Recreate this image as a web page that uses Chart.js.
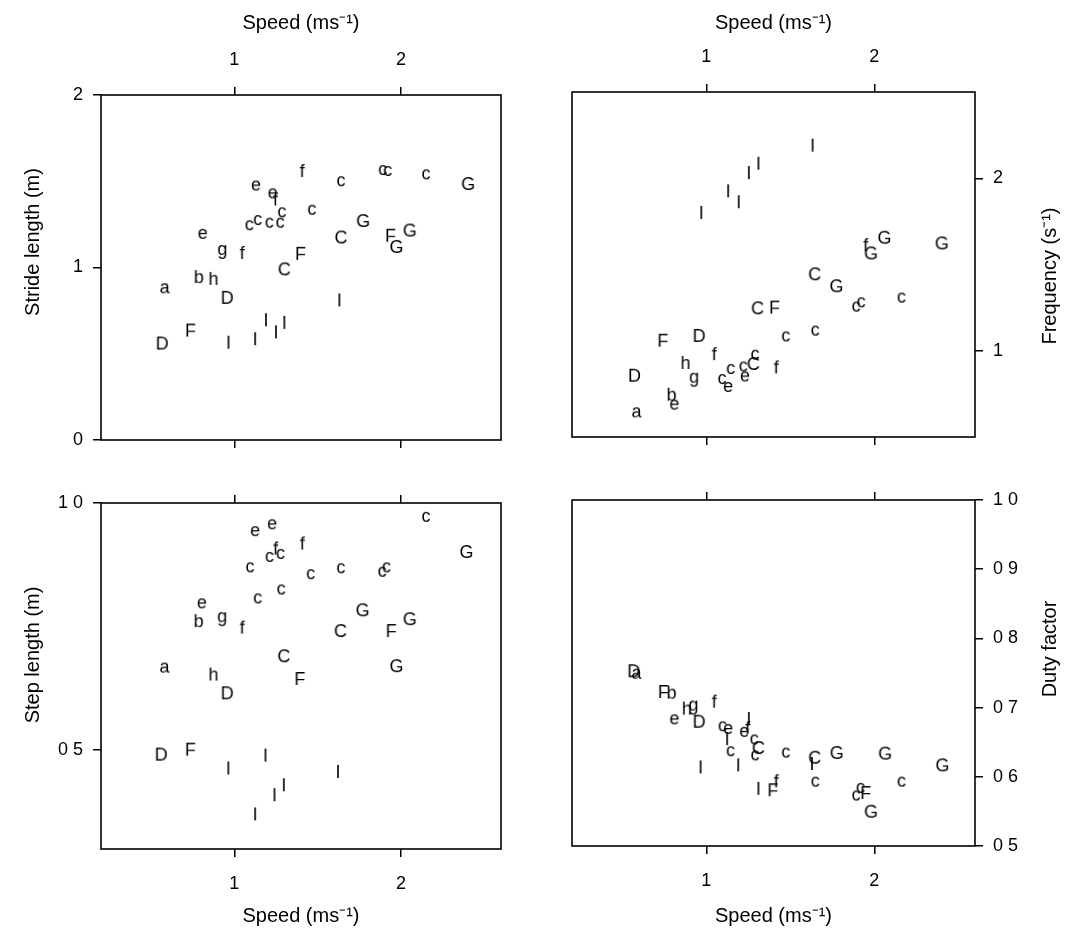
<!DOCTYPE html>
<html lang="en">
<head>
  <meta charset="UTF-8">
  <title>Gait parameters against speed</title>
  <script src="https://cdn.jsdelivr.net/npm/chart.js"></script>
  <style>
    body { margin: 0; background: #fff; }
    #wrap { position: relative; width: 1072px; height: 938px; }
    #wrap canvas { position: absolute; }
  </style>
</head>
<body>
  <div id="wrap">
    <canvas id="stride" width="536" height="470" style="left:0;top:0"></canvas>
    <canvas id="freq" width="536" height="470" style="left:536px;top:0"></canvas>
    <canvas id="step" width="536" height="468" style="left:0;top:470px"></canvas>
    <canvas id="duty" width="536" height="468" style="left:536px;top:470px"></canvas>
  </div>

  <script>
    const FONT = '"Liberation Sans", Arial, Helvetica, sans-serif';

    // shared speed axis
    const speedMin = 0.2, speedMax = 2.6;
    const speedTicks = [1, 2];

    // stride length (m)
    const strideLetters = ['f','c','c','c','c','G','e','e','f','c','c','c','c','c','c','G','C','F','G','G','e','g','f','F','C','b','h','a','D','I','I','I','I','I','I','F','D'];
    const strideSpeed  = [1.41,1.64,1.89,1.92,2.15,2.40,1.13,1.23,1.25,1.285,1.465,1.09,1.14,1.21,1.275,1.77,1.64,1.94,2.05,1.97,0.81,0.925,1.05,1.40,1.30,0.79,0.875,0.585,0.96,1.63,1.19,1.30,1.25,1.125,0.965,0.74,0.57];
    const strideLength = [1.565,1.50,1.565,1.56,1.54,1.49,1.475,1.43,1.40,1.32,1.335,1.245,1.275,1.26,1.26,1.275,1.18,1.19,1.22,1.125,1.195,1.09,1.09,1.085,0.995,0.95,0.94,0.88,0.83,0.815,0.70,0.685,0.63,0.59,0.57,0.64,0.565];
    const strideTicks = [0, 1, 2];

    // stride frequency (s-1)
    const freqLetters = ['I','I','I','I','I','I','G','G','f','G','C','G','c','c','c','C','F','c','c','F','D','f','h','c','C','c','e','c','c','e','f','D','g','b','e','a'];
    const freqSpeed   = [1.633,1.31,1.253,1.13,1.193,0.97,2.058,2.40,1.952,1.978,1.645,1.772,1.892,1.922,2.162,1.305,1.409,1.648,1.473,0.744,0.96,1.05,0.876,1.29,1.28,1.22,1.23,1.145,1.094,1.13,1.419,0.575,0.924,0.796,0.81,0.587];
    const freqValue   = [2.195,2.09,2.036,1.93,1.867,1.805,1.661,1.628,1.618,1.57,1.449,1.38,1.256,1.281,1.308,1.252,1.256,1.117,1.083,1.064,1.092,0.986,0.935,0.977,0.929,0.909,0.851,0.894,0.836,0.79,0.909,0.861,0.832,0.751,0.688,0.643];
    const freqTicks = [1, 2];

    // step length (m)
    const stepLetters = ['c','G','e','e','f','f','c','c','c','c','c','c','c','c','c','e','b','g','f','G','G','F','C','C','G','F','a','h','D','D','F','I','I','I','I','I','I'];
    const stepSpeed   = [2.15,2.39,1.125,1.227,1.411,1.251,1.211,1.277,1.094,1.458,1.639,1.887,1.913,1.281,1.14,0.805,0.789,0.924,1.05,1.767,2.05,1.944,1.637,1.297,1.97,1.396,0.584,0.875,0.96,0.564,0.739,1.187,0.964,1.622,1.297,1.241,1.125];
    const stepLength  = [0.972,0.903,0.943,0.957,0.920,0.910,0.891,0.897,0.870,0.856,0.868,0.861,0.870,0.825,0.807,0.797,0.763,0.765,0.750,0.785,0.767,0.743,0.743,0.692,0.672,0.646,0.667,0.655,0.617,0.493,0.503,0.491,0.465,0.458,0.431,0.411,0.372];
    const stepTicks = [0.5, 1.0];
    const stepTickLabels = ['0 5', '1 0'];

    // duty factor
    const dutyLetters = ['D','a','F','b','h','g','f','e','D','c','e','I','e','f','I','c','C','c','c','c','C','I','G','G','G','c','c','c','c','F','G','F','f','I','I','I'];
    const dutySpeed   = [0.571,0.587,0.747,0.796,0.884,0.92,1.05,0.81,0.96,1.096,1.13,1.124,1.226,1.25,1.253,1.285,1.31,1.29,1.144,1.473,1.645,1.629,1.774,2.062,2.403,1.649,2.162,1.918,1.892,1.952,1.978,1.399,1.419,0.966,1.19,1.31];
    const dutyValue   = [0.754,0.749,0.724,0.723,0.700,0.700,0.710,0.683,0.681,0.673,0.669,0.656,0.665,0.672,0.685,0.654,0.643,0.631,0.637,0.635,0.629,0.620,0.636,0.635,0.618,0.593,0.593,0.584,0.573,0.578,0.551,0.582,0.595,0.615,0.618,0.584];
    const dutyTicks = [0.5, 0.6, 0.7, 0.8, 0.9, 1.0];
    const dutyTickLabels = ['0 5', '0 6', '0 7', '0 8', '0 9', '1 0'];

    // each letter becomes a little canvas used as the point style
    const glyphs = {};
    function glyph(ch) {
      if (glyphs[ch]) return glyphs[ch];
      const c = document.createElement('canvas');
      c.width = 30; c.height = 30;
      const g = c.getContext('2d');
      g.font = '18px ' + FONT;
      g.textBaseline = 'alphabetic';
      g.fillStyle = '#000';
      const m = g.measureText(ch);
      const w = m.actualBoundingBoxLeft + m.actualBoundingBoxRight;
      const h = m.actualBoundingBoxAscent + m.actualBoundingBoxDescent;
      g.fillText(ch, 15 - w / 2 + m.actualBoundingBoxLeft, 15 - h / 2 + m.actualBoundingBoxAscent);
      glyphs[ch] = c;
      return c;
    }

    function letterDatasets(letters, xs, ys) {
      const groups = {};
      letters.forEach((l, i) => {
        (groups[l] = groups[l] || []).push({ x: xs[i], y: ys[i] });
      });
      return Object.keys(groups).map(l => ({
        label: l,
        data: groups[l],
        pointStyle: glyph(l),
        pointRadius: 8,
        clip: false
      }));
    }

    // box round the plot area
    const framePlugin = {
      id: 'frame',
      beforeDatasetsDraw(chart) {
        const { ctx, chartArea: a } = chart;
        ctx.save();
        ctx.strokeStyle = '#000';
        ctx.lineWidth = 1.6;
        ctx.strokeRect(a.left, a.top, a.right - a.left, a.bottom - a.top);
        ctx.restore();
      }
    };

    // y titles all read bottom to top, on both sides
    const sideTitle = {
      id: 'sideTitle',
      afterDraw(chart, args, opts) {
        const ctx = chart.ctx;
        ctx.save();
        ctx.translate(opts.x, opts.y);
        ctx.rotate(-Math.PI / 2);
        ctx.font = '20px ' + FONT;
        ctx.fillStyle = '#000';
        ctx.textAlign = 'center';
        ctx.textBaseline = 'middle';
        ctx.fillText(opts.text, 0, 0);
        ctx.restore();
      }
    };

    const gridOpts = { drawOnChartArea: false, color: '#000', tickColor: '#000', tickLength: 8, lineWidth: 1.5 };
    const tickFont = { family: FONT, size: 18 };

    function fixedTicks(values) {
      return s => { s.ticks = values.map(v => ({ value: v })); };
    }

    function speedAxis(pos, size, labelled) {
      const ax = {
        type: 'linear',
        position: pos,
        min: speedMin,
        max: speedMax,
        afterBuildTicks: fixedTicks(speedTicks),
        afterFit: s => { s.height = size; },
        grid: gridOpts,
        border: { display: false },
        ticks: { display: labelled, font: tickFont, color: '#000', padding: 16 }
      };
      if (labelled) {
        ax.title = {
          display: true,
          text: 'Speed (ms\u207B\u00B9)',
          color: '#000',
          font: { family: FONT, size: 20 },
          padding: pos === 'top' ? { top: 11 } : { bottom: 10 }
        };
      }
      return ax;
    }

    function valueAxis(pos, size, min, max, ticks, labels) {
      return {
        type: 'linear',
        position: pos,
        min: min,
        max: max,
        afterBuildTicks: fixedTicks(ticks),
        afterFit: s => { s.width = size; },
        grid: gridOpts,
        border: { display: false },
        ticks: {
          font: tickFont,
          color: '#000',
          padding: 10,
          callback: v => labels ? labels[ticks.indexOf(v)] : String(v)
        }
      };
    }

    function panel(id, datasets, scales, padding, title) {
      new Chart(document.getElementById(id), {
        type: 'scatter',
        data: { datasets: datasets },
        options: {
          responsive: false,
          animation: false,
          layout: { padding: padding },
          plugins: {
            legend: { display: false },
            tooltip: { enabled: false },
            sideTitle: title
          },
          scales: scales
        },
        plugins: [framePlugin, sideTitle]
      });
    }

    panel('stride',
      letterDatasets(strideLetters, strideSpeed, strideLength),
      {
        x: speedAxis('top', 95, true),
        x2: speedAxis('bottom', 30, false),
        y: valueAxis('left', 101, 0, 2, strideTicks)
      },
      { left: 0, right: 35, top: 0, bottom: 0 },
      { text: 'Stride length (m)', x: 33, y: 242 });

    panel('freq',
      letterDatasets(freqLetters, freqSpeed, freqValue),
      {
        x: speedAxis('top', 92, true),
        x2: speedAxis('bottom', 33, false),
        y: valueAxis('right', 97, 0.5, 2.5, freqTicks)
      },
      { left: 36, right: 0, top: 0, bottom: 0 },
      { text: 'Frequency (s\u207B\u00B9)', x: 514, y: 276 });

    panel('step',
      letterDatasets(stepLetters, stepSpeed, stepLength),
      {
        x: speedAxis('bottom', 89, true),
        x2: speedAxis('top', 33, false),
        y: valueAxis('left', 101, 0.3, 1.0, stepTicks, stepTickLabels)
      },
      { left: 0, right: 35, top: 0, bottom: 0 },
      { text: 'Step length (m)', x: 33, y: 185 });

    panel('duty',
      letterDatasets(dutyLetters, dutySpeed, dutyValue),
      {
        x: speedAxis('bottom', 92, true),
        x2: speedAxis('top', 30, false),
        y: valueAxis('right', 97, 0.5, 1.0, dutyTicks, dutyTickLabels)
      },
      { left: 36, right: 0, top: 0, bottom: 0 },
      { text: 'Duty factor', x: 514, y: 179 });
  </script>
</body>
</html>
